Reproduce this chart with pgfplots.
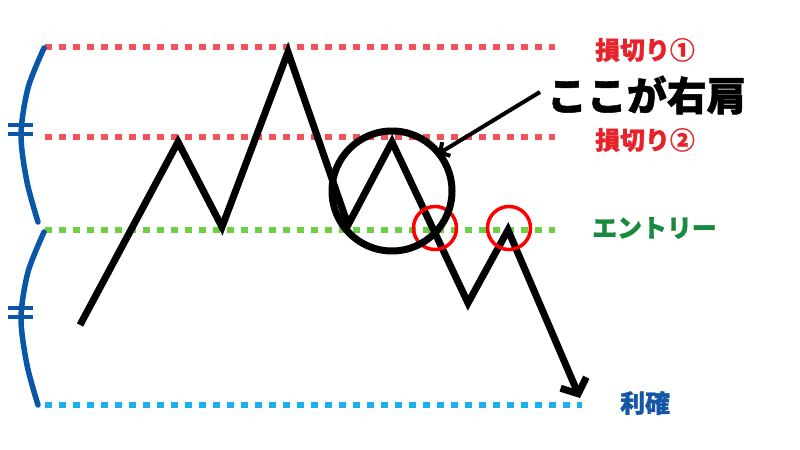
\documentclass[border=0pt]{standalone}
\usepackage{pgfplots}
\pgfplotsset{compat=1.18}
\usetikzlibrary{arrows.meta}
\usepackage{fontspec}
\newfontfamily\cjk{Noto Sans CJK JP}[BoldFeatures={FakeBold=1.2}]

\definecolor{lossdot}{HTML}{F0535B}
\definecolor{entrydot}{HTML}{6DCF45}
\definecolor{profitdot}{HTML}{1DB0EC}
\definecolor{bracecol}{HTML}{0A56A8}
\definecolor{losstext}{HTML}{E8222B}
\definecolor{entrytext}{HTML}{178A3C}
\definecolor{profittext}{HTML}{1656A6}

\begin{document}
\begin{tikzpicture}
\begin{axis}[
    scale only axis,
    width=800bp, height=450bp,
    xmin=0, xmax=800, ymin=0, ymax=450,
    y dir=reverse,
    hide axis,
    clip=false,
    dotline/.style={line width=6bp, dash pattern=on 6.5bp off 7.5bp, line cap=butt},
]
% page frame
\addplot[draw=none] coordinates {(0,0) (800,450)};

% level lines
\addplot[dotline, lossdot] coordinates {(45,47) (555,47)};
\addplot[dotline, lossdot] coordinates {(45,137) (555,137)};
\addplot[dotline, entrydot] coordinates {(45,230) (555,230)};
\addplot[dotline, profitdot] coordinates {(45,405) (582,405)};

% braces on the left
\addplot[bracecol, line width=5.5bp, smooth, line cap=round] coordinates {(44,48) (28,88) (21,135) (27,182) (38,222)};
\addplot[bracecol, line width=5.5bp, smooth, line cap=round] coordinates {(44,232) (28,272) (21,318) (27,365) (38,405)};
\addplot[bracecol, line width=4bp] coordinates {(8,125) (33,125)};
\addplot[bracecol, line width=4bp] coordinates {(8,134) (33,134)};
\addplot[bracecol, line width=4bp] coordinates {(8,308) (33,308)};
\addplot[bracecol, line width=4bp] coordinates {(8,317) (33,317)};

% entry circles
\addplot[only marks, mark=o, mark size=21.5bp, red, line width=3.5bp] coordinates {(435,228) (509,228)};

% price path
\addplot[black, line width=7bp, line join=miter, -{Straight Barb[length=12bp, width=28bp]}]
    coordinates {(80,325) (178,142) (222,227) (288,52) (348,225) (392,142) (468,303) (508,230) (580,398)};

% right shoulder circle
\addplot[only marks, mark=o, mark size=60bp, black, line width=7bp] coordinates {(392,191)};

% pointer
\addplot[black, line width=4bp, -{Straight Barb[length=7bp, width=16bp]}] coordinates {(540,92) (438,154)};

\node[anchor=west, inner sep=0pt] at (axis cs:547,95) {\cjk\bfseries\fontsize{40}{40}\selectfont ここが右肩};
\node[anchor=west, inner sep=0pt, text=losstext] at (axis cs:595,50) {\cjk\bfseries\fontsize{25}{25}\selectfont 損切り①};
\node[anchor=west, inner sep=0pt, text=losstext] at (axis cs:595,140) {\cjk\bfseries\fontsize{25}{25}\selectfont 損切り②};
\node[anchor=west, inner sep=0pt, text=entrytext] at (axis cs:592,228) {\cjk\bfseries\fontsize{25}{25}\selectfont エントリー};
\node[anchor=west, inner sep=0pt, text=profittext] at (axis cs:620,403) {\cjk\bfseries\fontsize{25}{25}\selectfont 利確};
\end{axis}
\end{tikzpicture}
\end{document}
